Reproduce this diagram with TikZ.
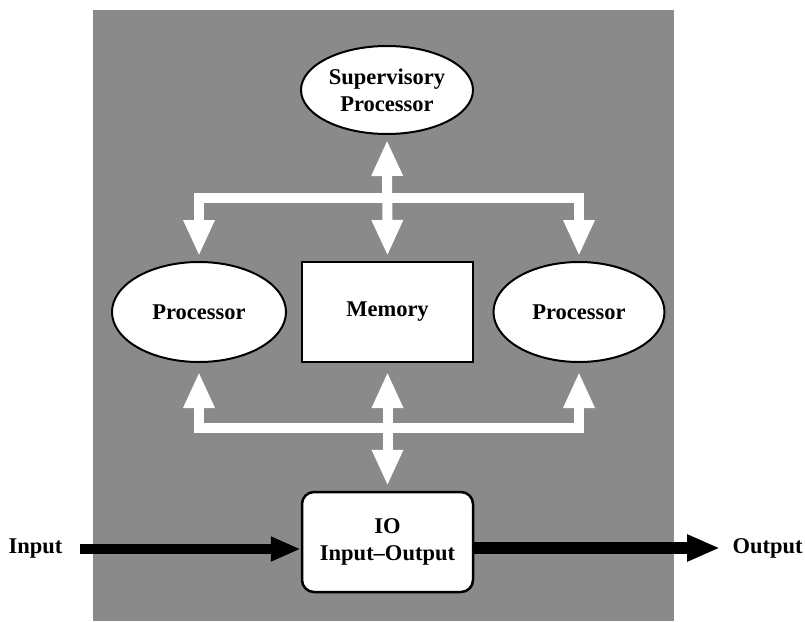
\documentclass[tikz,border=0pt]{standalone}
\usepackage{fontspec}
\setmainfont{Liberation Serif}
\usetikzlibrary{arrows.meta,shapes.geometric}
\definecolor{panel}{RGB}{138,138,138}
\tikzset{
  lbl/.style={font=\fontsize{22.5}{27}\selectfont\bfseries, align=center},
  oval/.style={lbl, ellipse, draw=black, line width=2pt, fill=white, inner sep=0pt},
  box/.style={lbl, rectangle, draw=black, line width=2pt, fill=white, inner sep=0pt,
    minimum width=171pt, minimum height=100pt},
  bus/.style={draw=white, line width=10pt, line join=miter,
    {Triangle[length=36pt,width=29pt]}-{Triangle[length=36pt,width=29pt]}},
  feed/.style={draw=black, line width=#1},
}
\begin{document}
\begin{tikzpicture}[x=1pt, y=-1pt]
  \useasboundingbox (0,0) rectangle (805,621);
  % shaded panel behind the system
  \fill[panel] (93,10) rectangle (674,621);

  % units
  \node[oval, minimum width=172pt, minimum height=88pt] (sup) at (387,90) {Supervisory\\Processor};
  \node[oval, minimum width=174pt, minimum height=100pt] (lp) at (199,312) {Processor};
  \node[box] (mem) at (387.5,312) {Memory};
  \node[oval, minimum width=171pt, minimum height=100pt] (rp) at (579,312) {Processor};
  \node[box, rounded corners=12pt, line width=2.5pt] (io) at (387.5,542) {IO\\Input--Output};

  \node[lbl, anchor=east] (inp) at (66,549) {Input};
  \node[lbl, anchor=west] (out) at (729,548) {Output};

  % bus junctions
  \coordinate (topbus) at (387,198);
  \coordinate (lowbus) at (387,428);

  % upper bus: processors and supervisor
  \draw[bus, shorten <=5pt, shorten >=5pt] (lp.north) |- (topbus) -| (rp.north);
  \draw[bus, shorten <=5pt, shorten >=5pt] (mem.north) -- (sup.south);

  % lower bus: processors, memory and IO
  \draw[bus, shorten <=9pt, shorten >=9pt] (lp.south) |- (lowbus) -| (rp.south);
  \draw[bus, shorten <=9pt, shorten >=5pt] (mem.south) -- (io.north);

  % external data flow
  \draw[feed=10pt, -{Triangle[length=30pt,width=23pt]}, shorten <=14pt]
    (inp.east) -- (inp.east -| io.west);
  \draw[feed=12pt, -{Triangle[length=33pt,width=25pt]}, shorten >=9pt]
    (io.east |- out.west) -- (out.west);
\end{tikzpicture}
\end{document}
